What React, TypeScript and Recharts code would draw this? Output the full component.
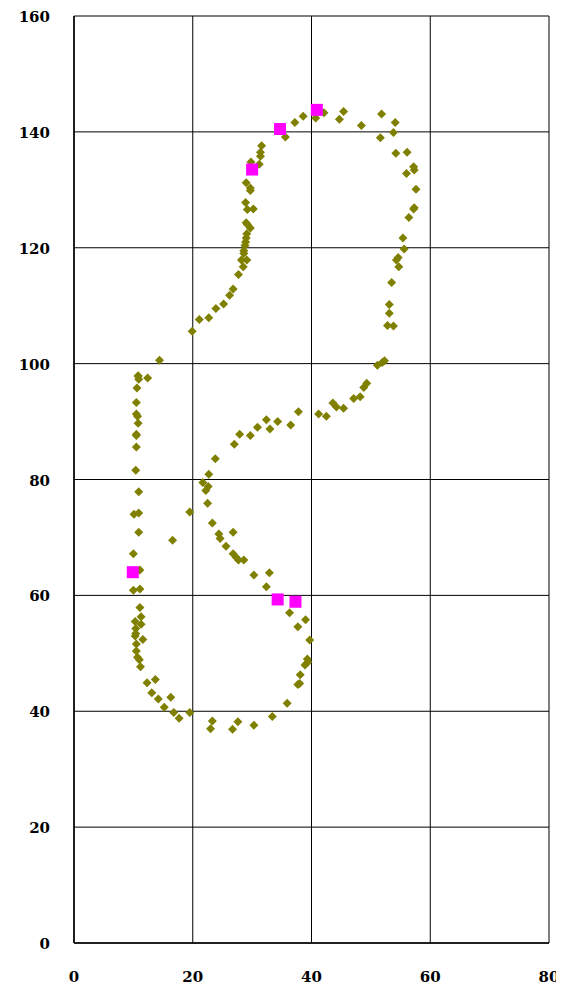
import { ScatterChart, Scatter, XAxis, YAxis, CartesianGrid } from "recharts";

type Pt = { x: number; y: number };

const xTicks = [0, 20, 40, 60, 80];
const yTicks = [0, 20, 40, 60, 80, 100, 120, 140, 160];

// olive diamonds in segments
const topArc: Pt[] = [
  { x: 35.6, y: 139.1 }, { x: 37.2, y: 141.6 }, { x: 38.6, y: 142.7 },
  { x: 40.7, y: 142.4 }, { x: 42.1, y: 143.3 }, { x: 44.7, y: 142.2 },
  { x: 45.4, y: 143.5 }, { x: 48.4, y: 141.1 }, { x: 51.8, y: 143.1 },
  { x: 54.1, y: 141.6 }, { x: 51.6, y: 139.0 }, { x: 53.8, y: 139.9 },
];

const rightSide: Pt[] = [
  { x: 54.2, y: 136.3 }, { x: 56.1, y: 136.5 }, { x: 57.2, y: 134.0 },
  { x: 57.3, y: 133.4 }, { x: 56.0, y: 132.8 }, { x: 57.6, y: 130.1 },
  { x: 57.3, y: 126.9 }, { x: 57.2, y: 126.7 }, { x: 56.4, y: 125.2 },
  { x: 55.4, y: 121.7 }, { x: 55.6, y: 119.8 }, { x: 54.6, y: 118.3 },
  { x: 54.3, y: 117.9 }, { x: 54.7, y: 116.7 }, { x: 53.5, y: 114.0 },
  { x: 53.1, y: 110.2 }, { x: 53.1, y: 108.7 }, { x: 52.8, y: 106.6 },
  { x: 53.8, y: 106.5 },
];

const upperLeft: Pt[] = [
  { x: 31.6, y: 137.6 }, { x: 31.4, y: 136.5 }, { x: 31.4, y: 135.8 },
  { x: 29.8, y: 134.8 }, { x: 31.2, y: 134.4 }, { x: 29.0, y: 131.2 },
  { x: 29.7, y: 130.3 }, { x: 29.7, y: 129.9 }, { x: 28.9, y: 127.8 },
  { x: 29.2, y: 126.6 }, { x: 30.2, y: 126.7 }, { x: 29.0, y: 124.3 },
  { x: 29.2, y: 124.0 }, { x: 29.7, y: 123.4 }, { x: 29.1, y: 122.4 },
  { x: 29.0, y: 121.7 }, { x: 28.9, y: 121.0 }, { x: 28.8, y: 120.4 },
  { x: 28.6, y: 119.5 }, { x: 28.6, y: 119.0 }, { x: 28.2, y: 117.9 },
  { x: 29.1, y: 117.9 }, { x: 28.5, y: 116.7 }, { x: 27.7, y: 115.4 },
  { x: 26.8, y: 112.9 }, { x: 26.2, y: 111.8 }, { x: 25.2, y: 110.3 },
  { x: 23.9, y: 109.5 }, { x: 22.7, y: 107.9 }, { x: 21.1, y: 107.6 },
  { x: 19.9, y: 105.6 }, { x: 14.4, y: 100.6 },
];

const crossArm: Pt[] = [
  { x: 52.3, y: 100.5 }, { x: 51.9, y: 100.2 }, { x: 51.1, y: 99.7 },
  { x: 49.3, y: 96.6 }, { x: 48.8, y: 95.9 }, { x: 48.2, y: 94.3 },
  { x: 47.1, y: 94.0 }, { x: 45.4, y: 92.3 }, { x: 44.2, y: 92.5 },
  { x: 43.6, y: 93.2 }, { x: 42.5, y: 90.9 }, { x: 41.2, y: 91.3 },
  { x: 37.8, y: 91.7 }, { x: 36.5, y: 89.4 }, { x: 34.3, y: 90.0 },
  { x: 33.0, y: 88.7 }, { x: 32.4, y: 90.3 }, { x: 30.9, y: 89.0 },
  { x: 29.7, y: 87.6 }, { x: 27.9, y: 87.8 }, { x: 27.0, y: 86.1 },
  { x: 23.8, y: 83.6 }, { x: 22.7, y: 80.9 }, { x: 21.7, y: 79.5 },
  { x: 22.6, y: 78.8 }, { x: 22.2, y: 78.1 }, { x: 22.5, y: 75.9 },
  { x: 19.5, y: 74.4 }, { x: 23.3, y: 72.5 }, { x: 24.4, y: 70.6 },
  { x: 24.6, y: 69.8 }, { x: 26.8, y: 70.9 }, { x: 25.6, y: 68.5 },
  { x: 26.8, y: 67.2 }, { x: 27.3, y: 66.6 }, { x: 27.7, y: 66.1 },
  { x: 28.6, y: 66.1 }, { x: 30.3, y: 63.5 }, { x: 32.9, y: 63.9 },
  { x: 32.4, y: 61.5 }, { x: 16.6, y: 69.5 }, { x: 36.3, y: 57.0 },
  { x: 39.0, y: 55.8 }, { x: 37.7, y: 54.6 }, { x: 39.7, y: 52.3 },
  { x: 39.3, y: 49.0 },
];

const leftColumn: Pt[] = [
  { x: 10.8, y: 97.9 }, { x: 10.8, y: 97.8 }, { x: 10.9, y: 97.3 },
  { x: 12.4, y: 97.5 }, { x: 10.6, y: 95.8 }, { x: 10.5, y: 93.3 },
  { x: 10.5, y: 91.3 }, { x: 10.7, y: 90.9 }, { x: 10.8, y: 89.7 },
  { x: 10.5, y: 87.8 }, { x: 10.5, y: 87.6 }, { x: 10.5, y: 85.6 },
  { x: 10.4, y: 81.6 }, { x: 10.9, y: 77.9 }, { x: 10.1, y: 74.0 },
  { x: 10.9, y: 74.2 }, { x: 10.9, y: 70.9 }, { x: 10.0, y: 67.2 },
  { x: 11.1, y: 64.4 }, { x: 10.0, y: 60.9 }, { x: 11.1, y: 61.1 },
  { x: 11.1, y: 57.9 }, { x: 11.3, y: 56.3 }, { x: 10.3, y: 55.5 },
  { x: 11.3, y: 55.0 }, { x: 10.4, y: 54.3 }, { x: 10.4, y: 53.4 },
  { x: 10.3, y: 53.0 }, { x: 11.6, y: 52.4 }, { x: 10.5, y: 51.6 },
  { x: 10.5, y: 50.4 }, { x: 10.7, y: 49.3 },
];

const bottomLoop: Pt[] = [
  { x: 11.0, y: 48.9 }, { x: 11.2, y: 47.7 }, { x: 12.3, y: 44.9 },
  { x: 13.7, y: 45.5 }, { x: 13.1, y: 43.2 }, { x: 14.2, y: 42.1 },
  { x: 16.3, y: 42.4 }, { x: 15.2, y: 40.7 }, { x: 16.8, y: 39.8 },
  { x: 17.7, y: 38.8 }, { x: 19.5, y: 39.8 }, { x: 23.0, y: 37.0 },
  { x: 23.3, y: 38.3 }, { x: 26.7, y: 36.9 }, { x: 27.6, y: 38.2 },
  { x: 30.3, y: 37.6 }, { x: 33.4, y: 39.1 }, { x: 35.9, y: 41.4 },
  { x: 37.7, y: 44.6 }, { x: 38.0, y: 44.8 }, { x: 38.1, y: 46.3 },
  { x: 38.9, y: 48.0 }, { x: 39.4, y: 48.5 },
];

const magentaPoints: Pt[] = [
  { x: 30.0, y: 133.5 }, { x: 34.7, y: 140.5 }, { x: 40.9, y: 143.8 },
  { x: 9.9, y: 64.0 }, { x: 34.3, y: 59.3 }, { x: 37.3, y: 58.9 },
];

const olivePoints = [
  ...topArc, ...rightSide, ...upperLeft, ...crossArm, ...leftColumn, ...bottomLoop,
];

const tickFont = {
  fontFamily: "'DejaVu Serif', serif",
  fontSize: 15,
  fontWeight: "bold",
  fill: "#000",
};

const Diamond = (props: any) => {
  const { cx, cy } = props;
  const r = 4.5;
  return (
    <path
      d={`M${cx},${cy - r}L${cx + r},${cy}L${cx},${cy + r}L${cx - r},${cy}Z`}
      fill="#808000"
    />
  );
};

const Square = (props: any) => {
  const { cx, cy } = props;
  return <rect x={cx - 6} y={cy - 6} width={12} height={12} fill="#ff00ff" />;
};

const XTick = (props: any) => {
  const { x, y, payload } = props;
  return (
    <text x={x} y={y + 39} textAnchor="middle" {...tickFont}>
      {payload.value}
    </text>
  );
};

const YTick = (props: any) => {
  const { y, payload } = props;
  return (
    <text x={42} y={y + 6} textAnchor="end" {...tickFont}>
      {payload.value}
    </text>
  );
};

export default function App() {
  return (
    <ScatterChart
      width={556}
      height={980}
      margin={{ top: 8, right: 15, bottom: 0, left: 0 }}
    >
      <CartesianGrid stroke="#000" strokeWidth={1} />
      <XAxis
        type="number"
        dataKey="x"
        domain={[0, 80]}
        ticks={xTicks}
        height={45}
        tickSize={0}
        tickMargin={0}
        tick={<XTick />}
        axisLine={{ stroke: "#000", strokeWidth: 1.5 }}
        tickLine={false}
        interval={0}
      />
      <YAxis
        type="number"
        dataKey="y"
        domain={[0, 160]}
        ticks={yTicks}
        width={66}
        tickSize={0}
        tickMargin={0}
        tick={<YTick />}
        axisLine={{ stroke: "#000", strokeWidth: 1.5 }}
        tickLine={false}
        interval={0}
      />
      <Scatter data={olivePoints} shape={<Diamond />} isAnimationActive={false} />
      <Scatter data={magentaPoints} shape={<Square />} isAnimationActive={false} />
    </ScatterChart>
  );
}
